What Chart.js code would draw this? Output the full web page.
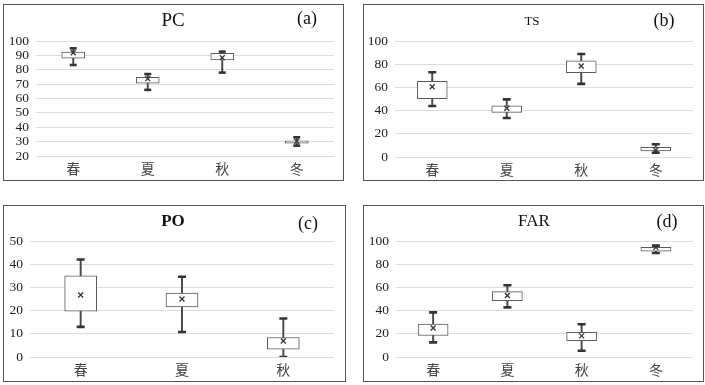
<!DOCTYPE html>
<html>
<head>
<meta charset="utf-8">
<script src="https://cdn.jsdelivr.net/npm/chart.js@4/dist/chart.umd.min.js"></script>
<style>
  body { margin: 0; width: 705px; height: 385px; background: #fff; position: relative; overflow: hidden; }
  .panel { position: absolute; border: 1px solid #555; box-sizing: border-box; }
  .panel canvas { position: absolute; left: 0; top: 0; }
  .t { position: absolute; font-family: "Liberation Serif", serif; color: #111; transform: translate(-50%, -50%); white-space: nowrap; }
</style>
</head>
<body>
<div class="panel" style="left:3px;top:4px;width:341px;height:177px"><canvas id="pc" width="339" height="175"></canvas></div>
<div class="panel" style="left:363px;top:4px;width:341px;height:177px"><canvas id="ts" width="339" height="175"></canvas></div>
<div class="panel" style="left:3px;top:205px;width:343px;height:177px"><canvas id="po" width="341" height="175"></canvas></div>
<div class="panel" style="left:363px;top:205px;width:341px;height:177px"><canvas id="far" width="339" height="175"></canvas></div>

<div class="t" style="left:173px;top:20px;font-size:19px">PC</div>
<div class="t" style="left:307px;top:18px;font-size:18px">(a)</div>
<div class="t" style="left:532px;top:21px;font-size:13px">TS</div>
<div class="t" style="left:664px;top:20px;font-size:18px">(b)</div>
<div class="t" style="left:173px;top:221px;font-size:17px;font-weight:bold">PO</div>
<div class="t" style="left:308px;top:223px;font-size:18px">(c)</div>
<div class="t" style="left:534px;top:221px;font-size:17px">FAR</div>
<div class="t" style="left:667px;top:221px;font-size:18px">(d)</div>

<script>
// categories
var seasons4 = ['春', '夏', '秋', '冬'];
var seasons3 = ['春', '夏', '秋'];

// (a) PC
var pcMin  = [83.3, 66.0, 78.0, 27.2];
var pcQ1   = [88.0, 70.6, 86.8, 29.0];
var pcQ3   = [92.3, 74.7, 91.4, 30.6];
var pcMax  = [94.9, 77.0, 92.6, 33.0];
var pcMean = [91.8, 73.8, 88.4, 30.2];

// (b) TS
var tsMin  = [44.0, 33.6, 63.0, 3.7];
var tsQ1   = [50.3, 38.5, 72.7, 5.2];
var tsQ3   = [65.3, 44.2, 83.0, 8.3];
var tsMax  = [73.0, 49.7, 88.8, 11.0];
var tsMean = [60.6, 42.0, 78.4, 6.0];

// (c) PO
var poMin  = [13.0, 10.8, 0.0];
var poQ1   = [19.8, 21.6, 3.4];
var poQ3   = [35.0, 27.6, 8.4];
var poMax  = [42.0, 34.6, 16.6];
var poMean = [26.7, 25.0, 6.9];

// (d) FAR
var farMin  = [12.6, 42.8, 5.4, 89.7];
var farQ1   = [18.5, 48.5, 14.0, 91.2];
var farQ3   = [28.4, 56.4, 21.3, 94.5];
var farMax  = [38.5, 61.8, 28.2, 96.0];
var farMean = [25.0, 53.0, 18.2, 94.5];

function pair(a, b) {
  return a.map(function (v, i) { return [v, b[i]]; });
}

function boxChart(id, labels, mn, q1, q3, mx, mean, yMin, yMax, step, g) {
  var markOpts = function (data, style, r, w, ord) {
    return {
      type: 'line', data: data, showLine: false, order: ord,
      pointStyle: style, pointRadius: r, pointHoverRadius: r,
      pointBorderColor: '#333', pointBackgroundColor: '#333', pointBorderWidth: w,
      borderColor: '#333'
    };
  };
  new Chart(document.getElementById(id), {
    type: 'bar',
    data: {
      labels: labels,
      datasets: [
        markOpts(mean, 'crossRot', 3.5, 1.3, 0),
        markOpts(mx, 'line', g.cap, 2.6, 1),
        markOpts(mn, 'line', g.cap, 2.6, 1),
        {
          data: pair(q1, q3), order: 2, grouped: false,
          backgroundColor: '#fff', borderColor: '#5a5a5a', borderWidth: 1,
          borderSkipped: false, barThickness: g.box
        },
        {
          data: pair(mn, mx), order: 3, grouped: false,
          backgroundColor: '#4a4a4a', barThickness: 1.3
        }
      ]
    },
    options: {
      responsive: false,
      animation: false,
      devicePixelRatio: 1,
      layout: { padding: { top: g.top, right: g.right, left: 0, bottom: 0 } },
      plugins: { legend: { display: false }, tooltip: { enabled: false } },
      scales: {
        x: {
          grid: { display: false, drawTicks: false },
          border: { display: false },
          ticks: { color: '#444', padding: 4, font: { family: '"Noto Sans CJK SC"', size: 14 } },
          afterFit: function (s) { s.height = g.xh; }
        },
        y: {
          min: yMin, max: yMax,
          grid: { color: '#dcdcdc', drawTicks: false },
          border: { display: false },
          ticks: { stepSize: step, autoSkip: false, color: '#222', padding: 7, font: { family: '"Liberation Serif"', size: 13.5 } },
          afterFit: function (s) { s.width = g.yw; }
        }
      }
    }
  });
}

boxChart('pc', seasons4, pcMin, pcQ1, pcQ3, pcMax, pcMean, 20, 100, 10,
  { top: 36, right: 9, xh: 24, yw: 32, box: 23, cap: 3.5 });
boxChart('ts', seasons4, tsMin, tsQ1, tsQ3, tsMax, tsMean, 0, 100, 20,
  { top: 36, right: 10, xh: 23, yw: 31, box: 30, cap: 4 });
boxChart('po', seasons3, poMin, poQ1, poQ3, poMax, poMean, 0, 50, 10,
  { top: 35, right: 11, xh: 24, yw: 26, box: 32, cap: 4 });
boxChart('far', seasons4, farMin, farQ1, farQ3, farMax, farMean, 0, 100, 20,
  { top: 35, right: 10, xh: 24, yw: 32, box: 30, cap: 4 });
</script>
</body>
</html>
